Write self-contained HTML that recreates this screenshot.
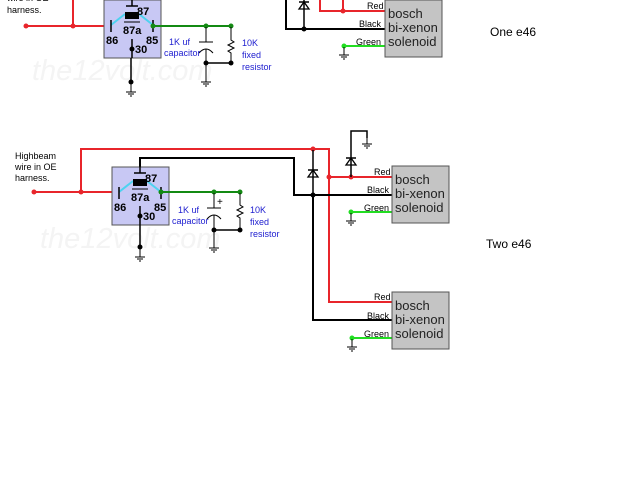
<!DOCTYPE html>
<html><head><meta charset="utf-8"><style>
html,body{margin:0;padding:0;background:#fff;width:640px;height:480px;overflow:hidden}
svg text{font-family:"Liberation Sans",sans-serif}
</style></head><body>
<svg width="640" height="480" viewBox="0 0 640 480" xmlns="http://www.w3.org/2000/svg">
<defs>
<g id="gnd" stroke="#000" stroke-width="1" fill="none">
<line x1="0" y1="0" x2="0" y2="8"/><line x1="-5" y1="8" x2="5" y2="8"/><line x1="-3" y1="10" x2="3" y2="10"/><line x1="-1" y1="12" x2="1" y2="12"/>
</g>
<g id="diode">
<polygon points="-5,4 5,4 0,-3" fill="none" stroke="#000" stroke-width="1.3"/>
<line x1="-5" y1="-3" x2="5" y2="-3" stroke="#000" stroke-width="1.5"/>
</g>
<g id="relay">
<rect x="0" y="0" width="57" height="58" fill="#c8c8f4" stroke="#555" stroke-width="1"/>
<line x1="7" y1="25" x2="21" y2="14" stroke="#4dd2f0" stroke-width="2"/>
<line x1="49" y1="25" x2="35" y2="14" stroke="#4dd2f0" stroke-width="2"/>
<line x1="28" y1="-6" x2="28" y2="6" stroke="#000" stroke-width="1.5"/>
<line x1="22" y1="6" x2="34" y2="6" stroke="#000" stroke-width="1.5"/>
<rect x="21" y="12" width="14" height="7" fill="#000"/>
<line x1="20" y1="22" x2="36" y2="22" stroke="#000" stroke-width="1"/>
<line x1="7" y1="20" x2="7" y2="32" stroke="#000" stroke-width="1.5"/>
<line x1="49" y1="20" x2="49" y2="32" stroke="#000" stroke-width="1.5"/>
<text x="33" y="15" font-size="11" font-weight="bold" fill="#000">87</text>
<text x="19" y="34" font-size="11" font-weight="bold" fill="#000">87a</text>
<text x="2" y="44" font-size="11" font-weight="bold" fill="#000">86</text>
<text x="42" y="44" font-size="11" font-weight="bold" fill="#000">85</text>
<text x="31" y="53" font-size="11" font-weight="bold" fill="#000">30</text>
<line x1="28" y1="39" x2="28" y2="58" stroke="#000" stroke-width="1.5"/>
<circle cx="28" cy="49" r="2.5" fill="#000"/>
</g>
<g id="sol">
<rect x="0" y="0" width="57" height="57" fill="#c4c4c4" stroke="#555" stroke-width="1"/>
<text x="3" y="18" font-size="13" fill="#222">bosch</text>
<text x="3" y="32" font-size="13" fill="#222">bi-xenon</text>
<text x="3" y="46" font-size="13" fill="#222">solenoid</text>
</g>
</defs>

<text x="32" y="80" font-size="29" font-style="italic" fill="#f4f4f4">the12volt.com</text>
<text x="40" y="248" font-size="29" font-style="italic" fill="#f4f4f4">the12volt.com</text>

<text x="7" y="1" font-size="9" fill="#000">wire in OE</text>
<text x="7" y="13" font-size="9" fill="#000">harness.</text>
<g stroke="#e8252b" stroke-width="2" fill="none">
<polyline points="26,26 109,26"/><polyline points="73,0 73,26"/>
</g>
<circle cx="26" cy="26" r="2.5" fill="#e8252b"/><circle cx="73" cy="26" r="2.5" fill="#e8252b"/><circle cx="109" cy="26" r="2.5" fill="#e8252b"/>
<use href="#relay" x="104" y="0"/>
<g stroke="#138a13" stroke-width="2"><line x1="153" y1="26" x2="231" y2="26"/></g>
<circle cx="153" cy="26" r="2.5" fill="#138a13"/><circle cx="206" cy="26" r="2.5" fill="#138a13"/><circle cx="231" cy="26" r="2.5" fill="#138a13"/>
<g stroke="#000" stroke-width="1" fill="none">
<line x1="206" y1="27" x2="206" y2="42"/><line x1="199" y1="42" x2="213" y2="42"/>
<path d="M199,53 Q206,45 213,53"/><line x1="206" y1="49" x2="206" y2="74"/>
<polyline points="231,27 231,40 234,42 228,45 234,48 228,51 231,53 231,63"/>
<line x1="206" y1="63" x2="231" y2="63" stroke-width="1.5"/>
</g>
<circle cx="206" cy="63" r="2.5" fill="#000"/><circle cx="231" cy="63" r="2.5" fill="#000"/>
<use href="#gnd" x="206" y="74"/>
<line x1="131" y1="58" x2="131" y2="84" stroke="#000" stroke-width="1.5"/>
<circle cx="131" cy="82" r="2.5" fill="#000"/><use href="#gnd" x="131" y="84"/>
<text x="169" y="45" font-size="9" fill="#2020d0">1K uf</text>
<text x="164" y="56" font-size="9" fill="#2020d0">capacitor</text>
<text x="242" y="46" font-size="9" fill="#2020d0">10K</text>
<text x="242" y="58" font-size="9" fill="#2020d0">fixed</text>
<text x="242" y="70" font-size="9" fill="#2020d0">resistor</text>

<g stroke="#000" stroke-width="2" fill="none"><polyline points="286,0 286,29 385,29"/><line x1="304" y1="0" x2="304" y2="29" stroke-width="1.5"/></g>
<use href="#diode" x="304" y="5"/>
<circle cx="304" cy="29" r="2.5" fill="#000"/>
<g stroke="#e8252b" stroke-width="2" fill="none"><polyline points="320,0 320,11 385,11"/><line x1="343" y1="0" x2="343" y2="11"/></g>
<circle cx="343" cy="11" r="2.5" fill="#e8252b"/>
<line x1="344" y1="46" x2="385" y2="46" stroke="#22dd22" stroke-width="2"/>
<circle cx="344" cy="46" r="2.5" fill="#22dd22"/><use href="#gnd" x="344" y="47"/>
<text x="367" y="9" font-size="9" fill="#000">Red</text>
<text x="359" y="27" font-size="9" fill="#000">Black</text>
<text x="356" y="45" font-size="9" fill="#000">Green</text>
<use href="#sol" x="385" y="0"/>
<text x="490" y="36" font-size="12" font-family="Liberation Serif" fill="#000">One e46</text>

<text x="15" y="159" font-size="9" fill="#000">Highbeam</text>
<text x="15" y="170" font-size="9" fill="#000">wire in OE</text>
<text x="15" y="181" font-size="9" fill="#000">harness.</text>
<g stroke="#e8252b" stroke-width="2" fill="none">
<polyline points="34,192 119,192"/>
<polyline points="81,192 81,149 329,149 329,302 392,302"/>
<line x1="329" y1="177" x2="392" y2="177"/>
</g>
<circle cx="34" cy="192" r="2.5" fill="#e8252b"/><circle cx="81" cy="192" r="2.5" fill="#e8252b"/><circle cx="119" cy="192" r="2.5" fill="#e8252b"/>
<circle cx="313" cy="149" r="2.5" fill="#e8252b"/><circle cx="329" cy="177" r="2.5" fill="#e8252b"/><circle cx="351" cy="177" r="2.5" fill="#e8252b"/>
<g stroke="#000" stroke-width="2" fill="none">
<polyline points="140,167 140,158 294,158 294,195 392,195"/>
<polyline points="313,195 313,320 392,320"/>
<line x1="313" y1="150" x2="313" y2="195" stroke-width="1.5"/>
<polyline points="351,177 351,131 367,131 367,138" stroke-width="1.5"/>
</g>
<use href="#diode" x="313" y="173"/><use href="#diode" x="351" y="161"/>
<use href="#gnd" x="367" y="136"/>
<circle cx="313" cy="195" r="2.5" fill="#000"/>
<use href="#relay" x="112" y="167"/>
<g stroke="#138a13" stroke-width="2"><line x1="161" y1="192" x2="240" y2="192"/></g>
<circle cx="161" cy="192" r="2.5" fill="#138a13"/><circle cx="214" cy="192" r="2.5" fill="#138a13"/><circle cx="240" cy="192" r="2.5" fill="#138a13"/>
<g stroke="#000" stroke-width="1" fill="none">
<line x1="214" y1="193" x2="214" y2="208"/><line x1="207" y1="208" x2="221" y2="208"/>
<path d="M207,219 Q214,211 221,219"/><line x1="214" y1="215" x2="214" y2="240"/>
<polyline points="240,193 240,205 243,207 237,210 243,213 237,216 240,218 240,230"/>
<line x1="214" y1="230" x2="240" y2="230" stroke-width="1.5"/>
</g>
<text x="217" y="205" font-size="10" fill="#000">+</text>
<circle cx="214" cy="230" r="2.5" fill="#000"/><circle cx="240" cy="230" r="2.5" fill="#000"/>
<use href="#gnd" x="214" y="240"/>
<line x1="140" y1="225" x2="140" y2="249" stroke="#000" stroke-width="1.5"/>
<circle cx="140" cy="247" r="2.5" fill="#000"/><use href="#gnd" x="140" y="249"/>
<text x="178" y="213" font-size="9" fill="#2020d0">1K uf</text>
<text x="172" y="224" font-size="9" fill="#2020d0">capacitor</text>
<text x="250" y="213" font-size="9" fill="#2020d0">10K</text>
<text x="250" y="225" font-size="9" fill="#2020d0">fixed</text>
<text x="250" y="237" font-size="9" fill="#2020d0">resistor</text>

<line x1="351" y1="212" x2="392" y2="212" stroke="#22dd22" stroke-width="2"/>
<circle cx="351" cy="212" r="2.5" fill="#22dd22"/><use href="#gnd" x="351" y="213"/>
<text x="374" y="175" font-size="9" fill="#000">Red</text>
<text x="367" y="193" font-size="9" fill="#000">Black</text>
<text x="364" y="211" font-size="9" fill="#000">Green</text>
<use href="#sol" x="392" y="166"/>
<text x="486" y="248" font-size="12" font-family="Liberation Serif" fill="#000">Two e46</text>

<line x1="352" y1="338" x2="392" y2="338" stroke="#22dd22" stroke-width="2"/>
<circle cx="352" cy="338" r="2.5" fill="#22dd22"/><use href="#gnd" x="352" y="339"/>
<text x="374" y="300" font-size="9" fill="#000">Red</text>
<text x="367" y="319" font-size="9" fill="#000">Black</text>
<text x="364" y="337" font-size="9" fill="#000">Green</text>
<use href="#sol" x="392" y="292"/>
</svg>
</body></html>
